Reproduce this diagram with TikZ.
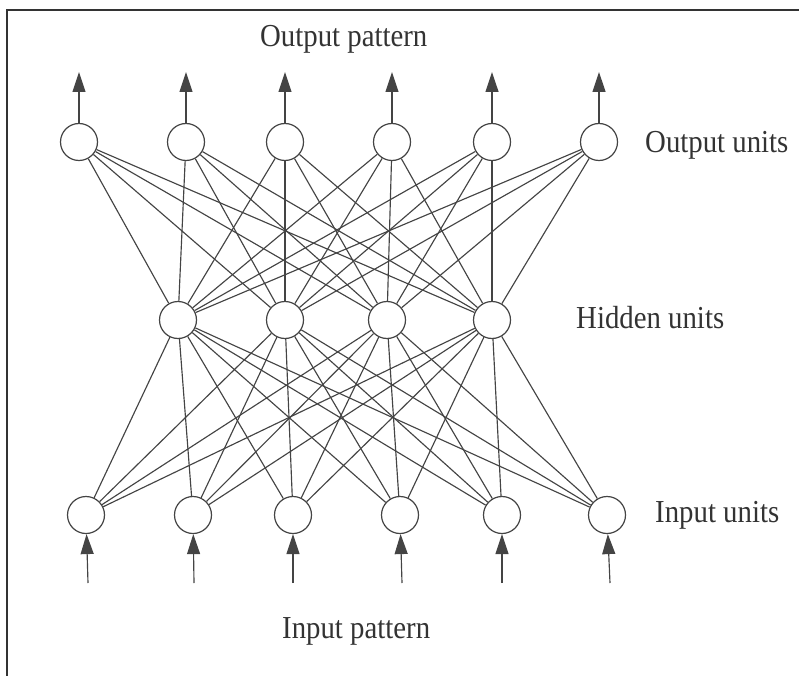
\documentclass[tikz,border=0pt]{standalone}
\usepackage{fontspec}
\setmainfont{Liberation Serif}[FakeStretch=0.9]
\usetikzlibrary{arrows.meta}
\definecolor{ink}{HTML}{444444}
\definecolor{textink}{HTML}{333333}
\tikzset{
  unit/.style={circle, draw=ink, line width=1.2pt, fill=white, minimum size=37pt, inner sep=0pt},
  link/.style={draw=ink, line width=1.15pt},
  flow/.style={draw=ink, line width=1.15pt, -{Triangle[length=20pt,width=13pt,fill=ink]}},
  caption/.style={font=\fontsize{32}{36}\selectfont, text=textink, inner sep=0pt}
}
\begin{document}
\begin{tikzpicture}[x=1pt, y=-1pt]
  \useasboundingbox (0,0) rectangle (799,676);
  % frame
  \draw[line width=2.3pt, draw=textink] (7,676) -- (7,10) -- (799,10);

  % layers of units
  \foreach \i/\x in {1/79, 2/186, 3/285, 4/392, 5/492, 6/599}
    \node[unit] (o\i) at (\x,142) {};
  \foreach \i/\x in {1/178, 2/285, 3/387, 4/492}
    \node[unit] (h\i) at (\x,320) {};
  \foreach \i/\x in {1/86, 2/193, 3/293, 4/400, 5/502, 6/607}
    \node[unit] (n\i) at (\x,515) {};

  % full connections between layers
  \foreach \j in {1,...,4} {
    \foreach \i in {1,...,6} {
      \draw[link] (o\i) -- (h\j);
      \draw[link] (n\i) -- (h\j);
    }
  }

  % output and input arrows
  \foreach \i/\x in {1/79, 2/186, 3/285, 4/392, 5/492, 6/599} {
    \coordinate (ot\i) at (\x,72);
    \draw[flow] (o\i) -- (ot\i);
  }
  \foreach \i/\x in {1/88, 2/194, 3/293, 4/402, 5/502, 6/610} {
    \coordinate (it\i) at (\x,583);
    \draw[flow] (it\i) -- (n\i);
  }

  % labels
  \node[caption, anchor=base west] (lop) at (260,47) {Output pattern};
  \node[caption, anchor=base west] (lou) at (645,153) {Output units};
  \node[caption, anchor=base west] (lhu) at (576,328) {Hidden units};
  \node[caption, anchor=base west] (liu) at (655,522) {Input units};
  \node[caption, anchor=base west] (lip) at (282,638) {Input pattern};
\end{tikzpicture}
\end{document}
